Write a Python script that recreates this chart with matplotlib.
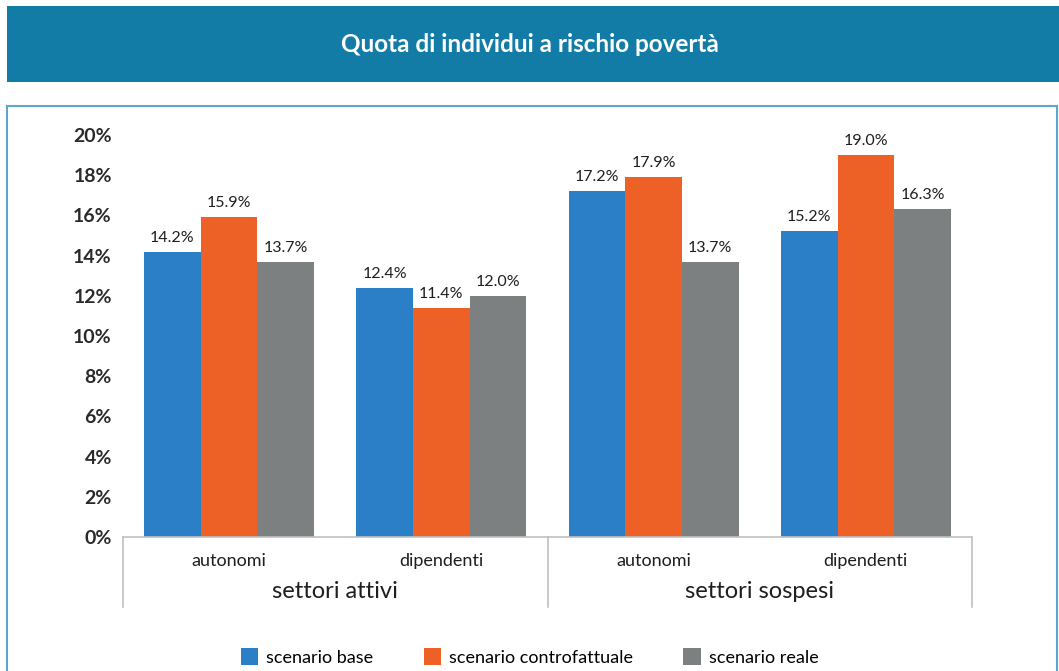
import numpy as np
import matplotlib
matplotlib.use("Agg")
import matplotlib.pyplot as plt
from matplotlib.patches import Rectangle

plt.rcParams['font.family'] = ['Lato', 'DejaVu Sans']

# data
categorie = ["autonomi", "dipendenti", "autonomi", "dipendenti"]
gruppi = ["settori attivi", "settori sospesi"]
serie = ["scenario base", "scenario controfattuale", "scenario reale"]
base = [14.2, 12.4, 17.2, 15.2]
controfattuale = [15.9, 11.4, 17.9, 19.0]
reale = [13.7, 12.0, 13.7, 16.3]
yticks = [0, 2, 4, 6, 8, 10, 12, 14, 16, 18, 20]

colori = ["#2A7FC6", "#EE6126", "#7C8080"]

W, H = 1059, 671
fig = plt.figure(figsize=(W / 100, H / 100), dpi=100)

# banner del titolo
fig.patches.append(Rectangle((7 / W, 1 - 82 / H), 1 - 7 / W, 76 / H,
                             transform=fig.transFigure, facecolor="#127BA6",
                             edgecolor="none", zorder=0))
fig.text(0.5, 1 - 44 / H, "Quota di individui a rischio povertà", color="white",
         fontsize=17.5, fontweight="bold", ha="center", va="center")

# riquadro
fig.patches.append(Rectangle((7 / W, -0.01), 1050 / W, 1 - 106 / H + 0.01,
                             transform=fig.transFigure, facecolor="none",
                             edgecolor="#5DA7CD", linewidth=1.5, zorder=0))

ax = fig.add_axes([123 / W, 134 / H, 849 / W, 402 / H])
x = np.arange(len(categorie))
w = 0.267
for i, (vals, lab) in enumerate(zip([base, controfattuale, reale], serie)):
    bars = ax.bar(x + (i - 1) * w, vals, w, color=colori[i], label=lab, zorder=2)
    for b, v in zip(bars, vals):
        ax.text(b.get_x() + b.get_width() / 2, v + 0.35, f"{v:.1f}%",
                ha="center", va="bottom", fontsize=11.5, color="#1e1e1e")

ax.set_xlim(-0.5, len(categorie) - 0.5)
ax.set_ylim(0, 20)
ax.set_yticks(yticks)
ax.set_yticklabels([f"{t}%" for t in yticks], fontsize=14, fontweight="bold",
                   color="#2a2a2a")
ax.tick_params(axis="y", length=0, pad=8)
ax.set_xticks([])
for s in ["top", "right", "left"]:
    ax.spines[s].set_visible(False)
ax.spines["bottom"].set_color("#C0C0C0")
ax.spines["bottom"].set_linewidth(1.2)

tr = ax.get_xaxis_transform()
for xs in [-0.5, 1.5, 3.5]:
    ax.plot([xs, xs], [0, -70 / 402], color="#C0C0C0", lw=1.2,
            transform=tr, clip_on=False)
for xi, c in zip(x, categorie):
    ax.text(xi, -24 / 402, c, transform=tr, ha="center", va="center",
            fontsize=13, color="#1e1e1e")
for gi, g in enumerate(gruppi):
    ax.text(gi * 2 + 0.5, -55 / 402, g, transform=tr, ha="center", va="center",
            fontsize=17, color="#1e1e1e")

leg = fig.legend(loc="center", bbox_to_anchor=(0.5, 1 - 657 / H), ncol=3,
                 frameon=False, fontsize=13, handlelength=0.95, handleheight=1.0,
                 handletextpad=0.45, columnspacing=2.8)

fig.savefig("out.png", dpi=100)
